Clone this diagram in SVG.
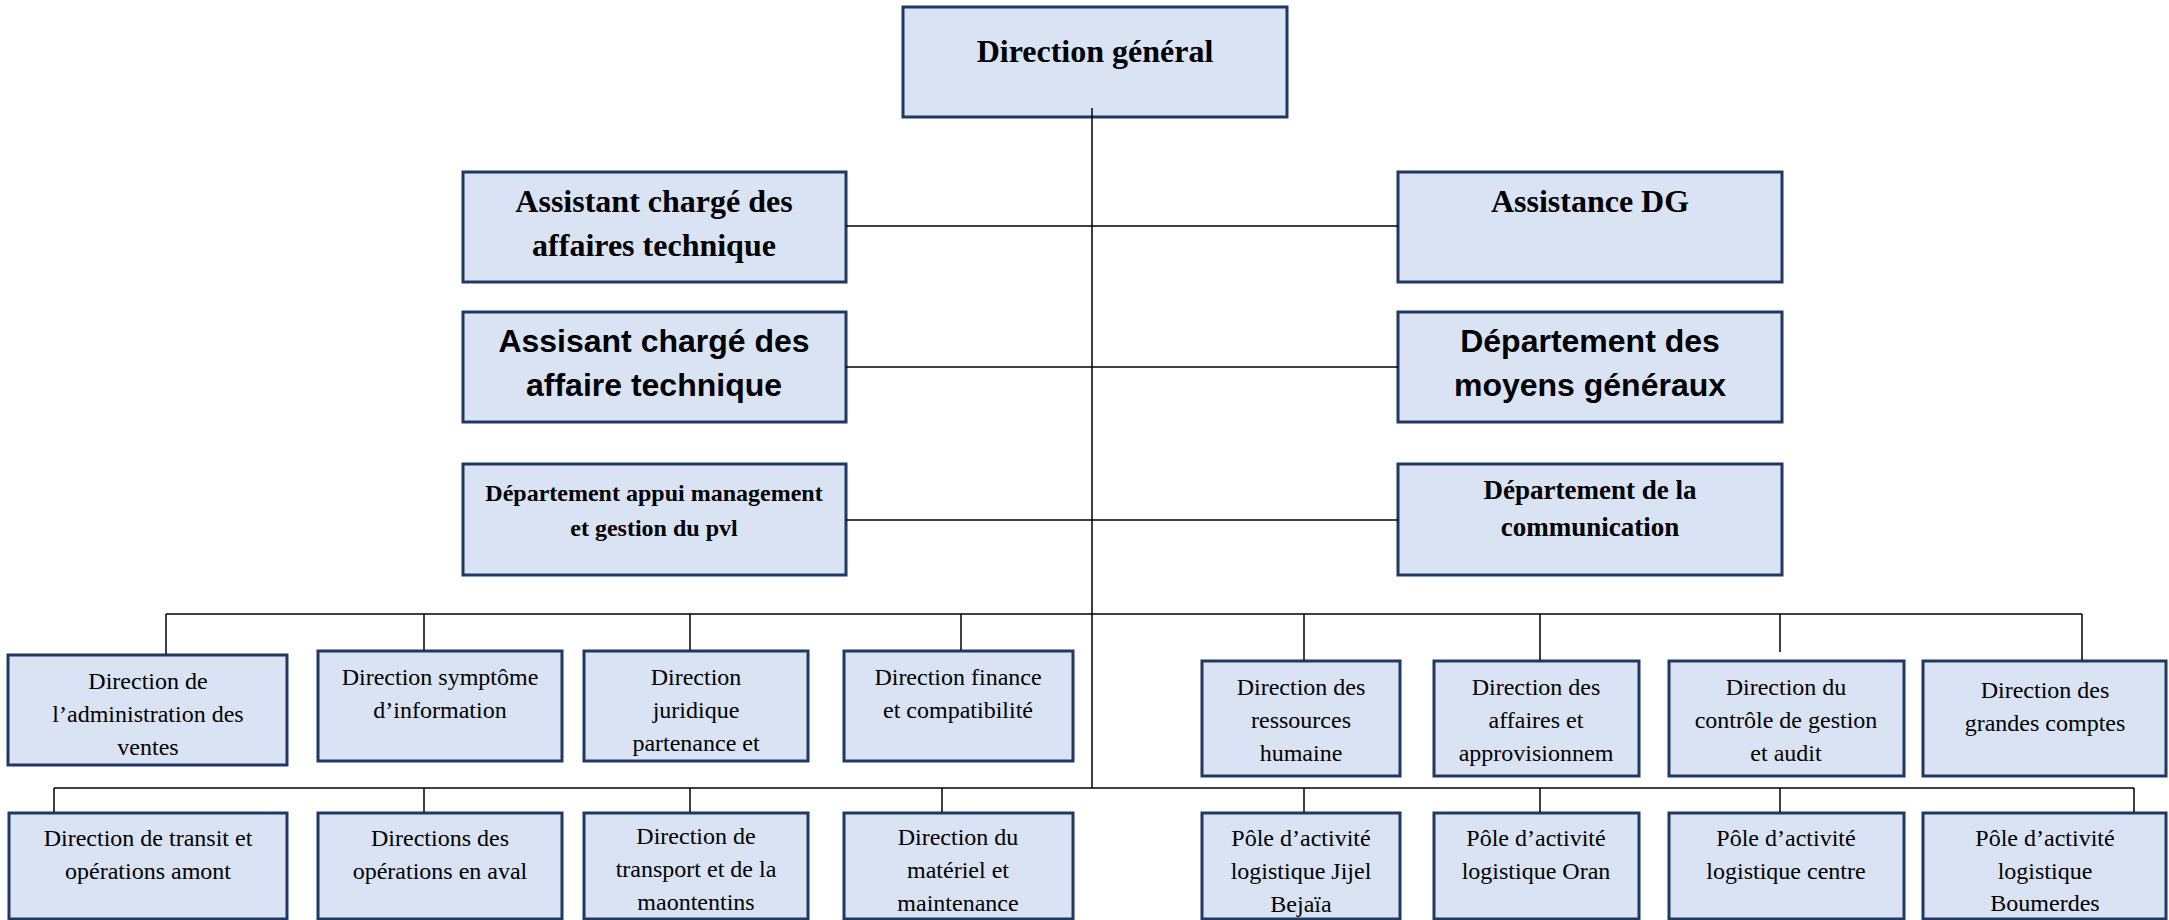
<svg xmlns="http://www.w3.org/2000/svg" width="2169" height="920" viewBox="0 0 2169 920">
<style>
.box{fill:#DAE3F3;stroke:#1F3864;stroke-width:3}
.ln{stroke:#000;stroke-width:1.5;fill:none}
.tb{font-family:"Liberation Serif",serif;font-weight:bold;text-anchor:middle;fill:#000}
.ab{font-family:"Liberation Sans",sans-serif;font-weight:bold;text-anchor:middle;fill:#000;font-size:32px}
.t{font-family:"Liberation Serif",serif;text-anchor:middle;fill:#000;font-size:24px}
</style>
<rect width="2169" height="920" fill="#fff"/>
<g id="dg"><rect class="box" x="903" y="7" width="384" height="110"/><text class="tb" font-size="32" x="1095" y="62">Direction général</text></g>
<g id="assistant-affaires"><rect class="box" x="463" y="172" width="383" height="110"/><text class="tb" font-size="32" x="654" y="212">Assistant chargé des</text><text class="tb" font-size="32" x="654" y="256">affaires technique</text></g>
<g id="assistance-dg"><rect class="box" x="1398" y="172" width="384" height="110"/><text class="tb" font-size="32" x="1590" y="212">Assistance DG</text></g>
<g id="assisant-affaire"><rect class="box" x="463" y="312" width="383" height="110"/><text class="ab" x="654" y="352">Assisant chargé des</text><text class="ab" x="654" y="396">affaire technique</text></g>
<g id="moyens-generaux"><rect class="box" x="1398" y="312" width="384" height="110"/><text class="ab" x="1590" y="352">Département des</text><text class="ab" x="1590" y="396">moyens généraux</text></g>
<g id="appui-management"><rect class="box" x="463" y="464" width="383" height="111"/><text class="tb" font-size="24" x="654" y="501">Département appui management</text><text class="tb" font-size="24" x="654" y="536">et gestion du pvl</text></g>
<g id="communication"><rect class="box" x="1398" y="464" width="384" height="111"/><text class="tb" font-size="27" x="1590" y="499">Département de la</text><text class="tb" font-size="27" x="1590" y="536">communication</text></g>
<g id="adm-ventes"><rect class="box" x="8" y="655" width="279" height="110"/><text class="t" x="148" y="689">Direction de</text><text class="t" x="148" y="722">l’administration des</text><text class="t" x="148" y="755">ventes</text></g>
<g id="symptome"><rect class="box" x="318" y="651" width="244" height="110"/><text class="t" x="440" y="685">Direction symptôme</text><text class="t" x="440" y="718">d’information</text></g>
<g id="juridique"><rect class="box" x="584" y="651" width="224" height="110"/><text class="t" x="696" y="685">Direction</text><text class="t" x="696" y="718">juridique</text><text class="t" x="696" y="751">partenance et</text></g>
<g id="finance"><rect class="box" x="844" y="651" width="229" height="110"/><text class="t" x="958" y="685">Direction finance</text><text class="t" x="958" y="718">et compatibilité</text></g>
<g id="rh"><rect class="box" x="1202" y="661" width="198" height="115"/><text class="t" x="1301" y="695">Direction des</text><text class="t" x="1301" y="728">ressources</text><text class="t" x="1301" y="761">humaine</text></g>
<g id="approvisionnement"><rect class="box" x="1434" y="661" width="205" height="115"/><text class="t" x="1536" y="695">Direction des</text><text class="t" x="1536" y="728">affaires et</text><text class="t" x="1536" y="761">approvisionnem</text></g>
<g id="controle"><rect class="box" x="1669" y="661" width="235" height="115"/><text class="t" x="1786" y="695">Direction du</text><text class="t" x="1786" y="728">contrôle de gestion</text><text class="t" x="1786" y="761">et audit</text></g>
<g id="grandes-comptes"><rect class="box" x="1923" y="661" width="243" height="115"/><text class="t" x="2045" y="698">Direction des</text><text class="t" x="2045" y="731">grandes comptes</text></g>
<g id="transit"><rect class="box" x="9" y="813" width="278" height="106"/><text class="t" x="148" y="846">Direction de transit et</text><text class="t" x="148" y="879">opérations amont</text></g>
<g id="aval"><rect class="box" x="318" y="813" width="244" height="106"/><text class="t" x="440" y="846">Directions des</text><text class="t" x="440" y="879">opérations en aval</text></g>
<g id="transport"><rect class="box" x="584" y="813" width="224" height="106"/><text class="t" x="696" y="844">Direction de</text><text class="t" x="696" y="877">transport et de la</text><text class="t" x="696" y="910">maontentins</text></g>
<g id="materiel"><rect class="box" x="844" y="813" width="229" height="106"/><text class="t" x="958" y="845">Direction du</text><text class="t" x="958" y="878">matériel et</text><text class="t" x="958" y="911">maintenance</text></g>
<g id="jijel"><rect class="box" x="1202" y="813" width="198" height="106"/><text class="t" x="1301" y="846">Pôle d’activité</text><text class="t" x="1301" y="879">logistique Jijel</text><text class="t" x="1301" y="912">Bejaïa</text></g>
<g id="oran"><rect class="box" x="1434" y="813" width="205" height="106"/><text class="t" x="1536" y="846">Pôle d’activité</text><text class="t" x="1536" y="879">logistique Oran</text></g>
<g id="centre"><rect class="box" x="1669" y="813" width="235" height="106"/><text class="t" x="1786" y="846">Pôle d’activité</text><text class="t" x="1786" y="879">logistique centre</text></g>
<g id="boumerdes"><rect class="box" x="1923" y="813" width="243" height="106"/><text class="t" x="2045" y="846">Pôle d’activité</text><text class="t" x="2045" y="879">logistique</text><text class="t" x="2045" y="911">Boumerdes</text></g>
<g id="connectors" class="ln">
<line x1="1092" y1="108" x2="1092" y2="788"/>
<line x1="846" y1="226" x2="1398" y2="226"/>
<line x1="846" y1="367" x2="1398" y2="367"/>
<line x1="846" y1="520" x2="1398" y2="520"/>
<line x1="166" y1="614" x2="2082" y2="614"/>
<line x1="166" y1="614" x2="166" y2="654"/>
<line x1="424" y1="614" x2="424" y2="650"/>
<line x1="690" y1="614" x2="690" y2="650"/>
<line x1="961" y1="614" x2="961" y2="650"/>
<line x1="1304" y1="614" x2="1304" y2="660"/>
<line x1="1540" y1="614" x2="1540" y2="660"/>
<line x1="1780" y1="614" x2="1780" y2="652"/>
<line x1="2082" y1="614" x2="2082" y2="660"/>
<line x1="54" y1="788" x2="2134" y2="788"/>
<line x1="54" y1="788" x2="54" y2="812"/>
<line x1="424" y1="788" x2="424" y2="812"/>
<line x1="690" y1="788" x2="690" y2="812"/>
<line x1="942" y1="788" x2="942" y2="812"/>
<line x1="1304" y1="788" x2="1304" y2="812"/>
<line x1="1540" y1="788" x2="1540" y2="812"/>
<line x1="1780" y1="788" x2="1780" y2="812"/>
<line x1="2134" y1="788" x2="2134" y2="812"/>
</g>
</svg>
